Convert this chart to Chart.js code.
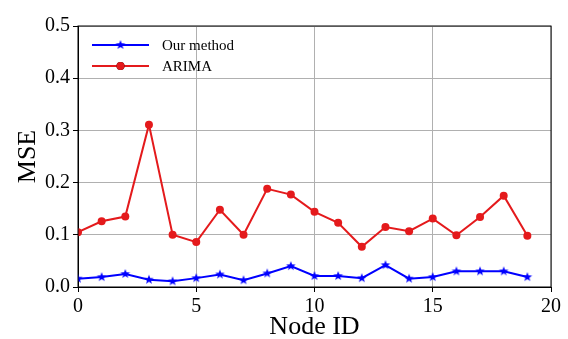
<!DOCTYPE html>
<html>
<head>
<meta charset="utf-8">
<script src="https://cdn.jsdelivr.net/npm/chart.js@4/dist/chart.umd.min.js"></script>
<style>
  html, body { margin: 0; padding: 0; background: #fff; }
  #wrap { width: 568px; height: 339px; }
</style>
</head>
<body>
<div id="wrap"><canvas id="grafico" width="568" height="339"></canvas></div>
<script>
// datos
const nodeIds = [0, 1, 2, 3, 4, 5, 6, 7, 8, 9, 10, 11, 12, 13, 14, 15, 16, 17, 18, 19];
const ourMethod = [0.016, 0.019, 0.025, 0.014, 0.011, 0.017, 0.024, 0.013, 0.026, 0.040,
                   0.021, 0.021, 0.017, 0.042, 0.016, 0.019, 0.030, 0.030, 0.030, 0.019];
const arima = [0.105, 0.126, 0.135, 0.311, 0.100, 0.086, 0.148, 0.100, 0.188, 0.177,
               0.144, 0.123, 0.077, 0.115, 0.107, 0.131, 0.099, 0.134, 0.175, 0.098];
const xTicks = [0, 5, 10, 15, 20];
const yTicks = [0.0, 0.1, 0.2, 0.3, 0.4, 0.5];

const serif = "'Liberation Serif', 'DejaVu Serif', serif";
const azul = '#0000ff';
const rojo = '#e41a1c';

// estrella rellena como en matplotlib
function crearEstrella(color, r) {
    const c = document.createElement('canvas');
    const s = Math.ceil(r * 2 + 2);
    c.width = s; c.height = s;
    const g = c.getContext('2d');
    g.beginPath();
    for (let i = 0; i < 10; i++) {
        const rad = i % 2 === 0 ? r : r * 0.42;
        const ang = -Math.PI / 2 + i * Math.PI / 5;
        const px = s / 2 + rad * Math.cos(ang);
        const py = s / 2 + rad * Math.sin(ang);
        if (i === 0) g.moveTo(px, py); else g.lineTo(px, py);
    }
    g.closePath();
    g.fillStyle = color;
    g.fill();
    return c;
}
const estrella = crearEstrella(azul, 5);

const leyendaPlugin = {
    id: 'leyendaDentro',
    afterDraw(chart) {
        const ctx = chart.ctx;
        const a = chart.chartArea;
        // marco completo
        ctx.save();
        ctx.strokeStyle = '#000';
        ctx.lineWidth = 1;
        ctx.strokeRect(a.left, a.top, a.right - a.left, a.bottom - a.top);
        // leyenda
        const filas = chart.data.datasets;
        filas.forEach((ds, i) => {
            const y = 45 + i * 21;
            ctx.strokeStyle = ds.borderColor;
            ctx.lineWidth = 2;
            ctx.beginPath();
            ctx.moveTo(92, y);
            ctx.lineTo(149, y);
            ctx.stroke();
            Chart.helpers.drawPoint(ctx, {
                pointStyle: ds.pointStyle, radius: ds.pointRadius, rotation: 0, borderWidth: 0
            }, 120.5, y);
            if (ds.pointStyle === 'circle') {
                ctx.fillStyle = ds.borderColor;
                ctx.beginPath();
                ctx.arc(120.5, y, ds.pointRadius, 0, Math.PI * 2);
                ctx.fill();
            }
            ctx.fillStyle = '#000';
            ctx.font = "15px " + serif;
            ctx.textBaseline = 'middle';
            ctx.textAlign = 'left';
            ctx.fillText(ds.label, 162, y + 1);
        });
        ctx.restore();
    }
};

const ctx = document.getElementById('grafico').getContext('2d');
const myChart = new Chart(ctx, {
    type: 'line',
    data: {
        datasets: [{
            label: 'Our method',
            data: nodeIds.map((n, i) => ({ x: n, y: ourMethod[i] })),
            borderColor: azul,
            backgroundColor: azul,
            borderWidth: 2,
            pointStyle: estrella,
            pointRadius: 5
        }, {
            label: 'ARIMA',
            data: nodeIds.map((n, i) => ({ x: n, y: arima[i] })),
            borderColor: rojo,
            backgroundColor: rojo,
            borderWidth: 2,
            pointStyle: 'circle',
            pointRadius: 4,
            pointBorderWidth: 0
        }]
    },
    options: {
        responsive: false,
        animation: false,
        layout: { padding: { top: 26, right: 17, left: 0, bottom: 0 } },
        plugins: {
            legend: { display: false },
            tooltip: { enabled: false }
        },
        scales: {
            x: {
                type: 'linear',
                min: 0,
                max: 20,
                afterBuildTicks: s => { s.ticks = xTicks.map(v => ({ value: v })); },
                afterFit: s => { s.height = 52; },
                grid: { color: '#b0b0b0', tickColor: '#000', tickLength: 5, lineWidth: 1 },
                border: { color: '#000', width: 1 },
                ticks: { color: '#000', font: { family: serif, size: 20 }, padding: 3, maxRotation: 0 },
                title: {
                    display: true, text: 'Node ID', color: '#000',
                    font: { family: serif, size: 26 }, padding: { top: 0, bottom: -4 }
                }
            },
            y: {
                min: 0,
                max: 0.5,
                afterBuildTicks: s => { s.ticks = yTicks.map(v => ({ value: v })); },
                afterFit: s => { s.width = 78; },
                grid: { color: '#b0b0b0', tickColor: '#000', tickLength: 5, lineWidth: 1 },
                border: { color: '#000', width: 1 },
                ticks: {
                    color: '#000', font: { family: serif, size: 20 }, padding: 3,
                    callback: v => v.toFixed(1)
                },
                title: {
                    display: true, text: 'MSE', color: '#000',
                    font: { family: serif, size: 26 }, padding: { top: 13, bottom: 0 }
                }
            }
        }
    },
    plugins: [leyendaPlugin]
});
</script>
</body>
</html>
